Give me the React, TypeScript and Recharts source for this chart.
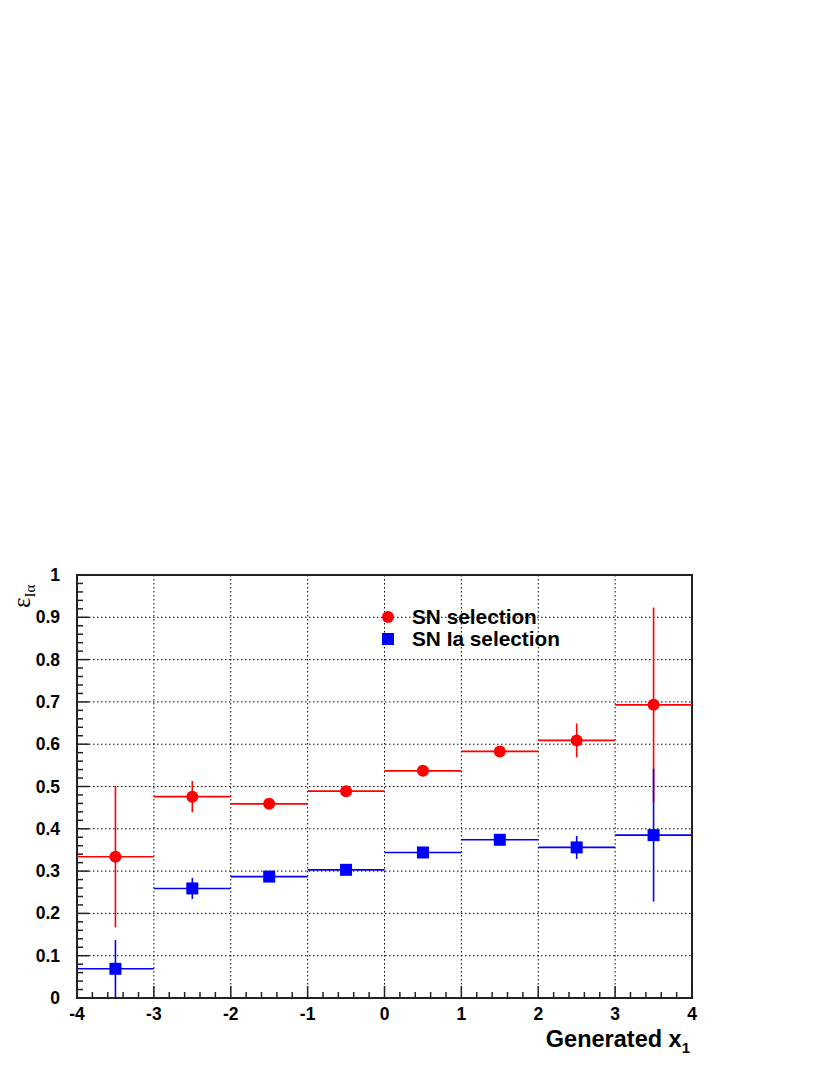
import React from "react";
import {
  ComposedChart,
  Scatter,
  ErrorBar,
  XAxis,
  YAxis,
  CartesianGrid,
  ReferenceArea,
  Legend,
} from "recharts";

// bin centres of generated x1
const binCenters = [-3.5, -2.5, -1.5, -0.5, 0.5, 1.5, 2.5, 3.5];
const binHalfWidth = [0.5, 0.5, 0.5, 0.5, 0.5, 0.5, 0.5, 0.5];

// SN selection efficiency
const snEff = [0.334, 0.476, 0.459, 0.489, 0.537, 0.583, 0.609, 0.693];
const snErr = [0.167, 0.037, 0.009, 0.009, 0.008, 0.008, 0.04, 0.23];

// SN Ia selection efficiency
const snIaEff = [0.069, 0.259, 0.287, 0.303, 0.344, 0.374, 0.356, 0.385];
const snIaErr = [0.068, 0.025, 0.008, 0.007, 0.007, 0.008, 0.027, 0.157];

const seriesNames = ["SN selection", "SN Ia selection"];

const xMajorTicks = [-4, -3, -2, -1, 0, 1, 2, 3, 4];
const yMajorTicks = [0, 0.1, 0.2, 0.3, 0.4, 0.5, 0.6, 0.7, 0.8, 0.9, 1];

const RED = "#ff0000";
const BLUE = "#0000ff";
const FONT = "'Liberation Sans', Arial, Helvetica, sans-serif";

// minor ticks: 5 subdivisions per major interval
const withMinors = (majors: number[]) => {
  const out: number[] = [];
  for (let i = 0; i < majors.length - 1; i++) {
    const step = (majors[i + 1] - majors[i]) / 5;
    for (let k = 0; k < 5; k++) out.push(+(majors[i] + k * step).toFixed(4));
  }
  out.push(majors[majors.length - 1]);
  return out;
};

const xTicks = withMinors(xMajorTicks);
const yTicks = withMinors(yMajorTicks);

const isMajor = (v: number, majors: number[]) =>
  majors.some((m) => Math.abs(m - v) < 1e-6);

const snData = binCenters.map((x, i) => ({
  x,
  y: snEff[i],
  ex: binHalfWidth[i],
  ey: snErr[i],
}));
const snIaData = binCenters.map((x, i) => ({
  x,
  y: snIaEff[i],
  ex: binHalfWidth[i],
  ey: snIaErr[i],
}));

const fmtY = (v: number) => (v === 0 || v === 1 ? String(v) : v.toFixed(1));

const XTick = (props: any) => {
  const { x, y, payload } = props;
  const major = isMajor(payload.value, xMajorTicks);
  return (
    <g>
      <line x1={x} x2={x} y1={y} y2={y - (major ? 12 : 6)} stroke="#222" strokeWidth={1.5} />
      {major && (
        <text
          x={x}
          y={y + 22}
          textAnchor="middle"
          fontFamily={FONT}
          fontWeight="bold"
          fontSize={17.5}
          fill="#000"
        >
          {String(payload.value)}
        </text>
      )}
    </g>
  );
};

const YTick = (props: any) => {
  const { x, y, payload } = props;
  const major = isMajor(payload.value, yMajorTicks);
  return (
    <g>
      <line x1={x} x2={x + (major ? 12 : 6)} y1={y} y2={y} stroke="#222" strokeWidth={1.5} />
      {major && (
        <text
          x={x - 17}
          y={y + 6}
          textAnchor="end"
          fontFamily={FONT}
          fontWeight="bold"
          fontSize={17.5}
          fill="#000"
        >
          {fmtY(payload.value)}
        </text>
      )}
    </g>
  );
};

const XTitle = () => (
  <text x={682} y={1039} textAnchor="end" fontFamily={FONT} fontWeight="bold" fontSize={23.5} fill="#000">
    Generated x
    <tspan fontSize={15} dy={6}>
      1
    </tspan>
  </text>
);

const YTitle = () => (
  <text
    transform="translate(22, 600) rotate(-90)"
    fontFamily="'Liberation Serif', 'DejaVu Serif', serif"
    fontSize={25}
    fill="#000"
  >
    ε
    <tspan fontSize={15} dy={5}>
      Iα
    </tspan>
  </text>
);

const Circle = (props: any) => <circle cx={props.cx} cy={props.cy} r={6} fill={RED} />;
const Square = (props: any) => (
  <rect x={props.cx - 6} y={props.cy - 6} width={12} height={12} fill={BLUE} />
);

const LegendBox = () => (
  <div style={{ fontFamily: FONT, fontWeight: "bold", fontSize: 20.8, color: "#000" }}>
    {seriesNames.map((name, i) => (
      <div key={name} style={{ display: "flex", alignItems: "center", height: 22 }}>
        <svg width={16} height={16}>
          {i === 0 ? (
            <circle cx={8} cy={8} r={6} fill={RED} />
          ) : (
            <rect x={2} y={2} width={12} height={12} fill={BLUE} />
          )}
        </svg>
        <span style={{ marginLeft: 16, whiteSpace: "nowrap" }}>{name}</span>
      </div>
    ))}
  </div>
);

export default function App() {
  return (
    <div style={{ width: 814, height: 1059 }}>
      <ComposedChart
        width={814}
        height={1059}
        margin={{ top: 567, right: 130, bottom: 19, left: 9 }}
      >
        <CartesianGrid
          stroke="#000"
          strokeWidth={1}
          strokeDasharray="1.5 2.5"
          horizontalValues={yMajorTicks.slice(1, -1)}
          verticalValues={xMajorTicks.slice(1, -1)}
        />
        <XAxis
          type="number"
          dataKey="x"
          domain={[-4, 4]}
          ticks={xTicks}
          interval={0}
          allowDataOverflow
          axisLine={false}
          tickLine={false}
          tickSize={0}
          tickMargin={0}
          tick={<XTick />}
          height={50}
          label={{ content: <XTitle /> }}
        />
        <YAxis
          type="number"
          dataKey="y"
          domain={[0, 1]}
          ticks={yTicks}
          interval={0}
          allowDataOverflow
          axisLine={false}
          tickLine={false}
          tickSize={0}
          tickMargin={0}
          tick={<YTick />}
          width={60}
          label={{ content: <YTitle /> }}
        />
        <ReferenceArea
          x1={-4}
          x2={4}
          y1={0}
          y2={1}
          fill="none"
          stroke="#222"
          strokeWidth={2}
          ifOverflow="visible"
        />
        <Scatter
          name={seriesNames[0]}
          data={snData}
          shape={<Circle />}
          isAnimationActive={false}
        >
          <ErrorBar dataKey="ex" direction="x" width={0} stroke={RED} strokeWidth={1.6} isAnimationActive={false} />
          <ErrorBar dataKey="ey" direction="y" width={0} stroke={RED} strokeWidth={1.6} isAnimationActive={false} />
        </Scatter>
        <Scatter
          name={seriesNames[1]}
          data={snIaData}
          shape={<Square />}
          isAnimationActive={false}
        >
          <ErrorBar dataKey="ex" direction="x" width={0} stroke={BLUE} strokeWidth={1.6} isAnimationActive={false} />
          <ErrorBar dataKey="ey" direction="y" width={0} stroke={BLUE} strokeWidth={1.6} isAnimationActive={false} />
        </Scatter>
        <Legend
          layout="horizontal"
          verticalAlign="middle"
          align="center"
          content={<LegendBox />}
          wrapperStyle={{ left: 372, top: 598, width: 260 }}
        />
      </ComposedChart>
    </div>
  );
}
